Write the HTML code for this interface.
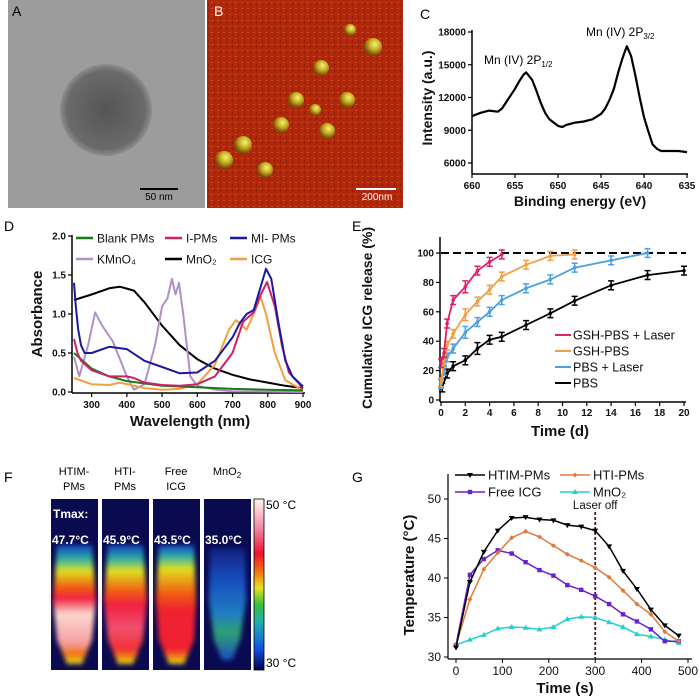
<!DOCTYPE html>
<html><head><meta charset="utf-8"><style>
body{margin:0;background:#fff;}
svg{display:block;font-family:"Liberation Sans",Arial,sans-serif;}
.t{font-weight:bold;fill:#111;}
</style></head><body>
<svg id="fig" width="700" height="700" viewBox="0 0 700 700">
<defs>
<radialGradient id="tem" cx="0.5" cy="0.5" r="0.5">
<stop offset="0" stop-color="#555"/><stop offset="0.85" stop-color="#6a6a6a"/><stop offset="1" stop-color="#8e8e8e"/>
</radialGradient>
<radialGradient id="sph" cx="0.6" cy="0.35" r="0.6">
<stop offset="0" stop-color="#f4f080"/><stop offset="0.5" stop-color="#c8b020"/><stop offset="1" stop-color="#7a4a08"/>
</radialGradient>
<pattern id="noise" width="6" height="6" patternUnits="userSpaceOnUse">
<rect width="6" height="6" fill="#b0270c"/><rect x="1" y="2" width="2" height="1" fill="#d0501a"/><rect x="4" y="4" width="1" height="2" fill="#8a1a08"/>
</pattern>
<linearGradient id="cbar" x1="0" y1="1" x2="0" y2="0">
<stop offset="0" stop-color="#000050"/><stop offset="0.12" stop-color="#1050e0"/><stop offset="0.28" stop-color="#20b0b0"/><stop offset="0.38" stop-color="#30c040"/><stop offset="0.48" stop-color="#e8e020"/><stop offset="0.58" stop-color="#f07010"/><stop offset="0.68" stop-color="#f01030"/><stop offset="0.82" stop-color="#f080a0"/><stop offset="1" stop-color="#fff8f0"/>
</linearGradient>
<linearGradient id="tube1" x1="0" y1="0" x2="0" y2="1">
<stop offset="0" stop-color="#1040c0"/><stop offset="0.12" stop-color="#30b0a0"/><stop offset="0.22" stop-color="#e0e020"/><stop offset="0.35" stop-color="#f06010"/><stop offset="0.45" stop-color="#f02040"/><stop offset="0.58" stop-color="#fcd8d0"/><stop offset="0.82" stop-color="#f4a0a0"/><stop offset="0.92" stop-color="#f07010"/><stop offset="1" stop-color="#e0e020"/>
</linearGradient>
<linearGradient id="tube2" x1="0" y1="0" x2="0" y2="1">
<stop offset="0" stop-color="#1040c0"/><stop offset="0.12" stop-color="#30b0a0"/><stop offset="0.22" stop-color="#e0e020"/><stop offset="0.38" stop-color="#f06010"/><stop offset="0.5" stop-color="#f02040"/><stop offset="0.7" stop-color="#f05070"/><stop offset="0.88" stop-color="#f03030"/><stop offset="0.95" stop-color="#f09010"/><stop offset="1" stop-color="#e0e020"/>
</linearGradient>
<linearGradient id="tube3" x1="0" y1="0" x2="0" y2="1">
<stop offset="0" stop-color="#1040c0"/><stop offset="0.1" stop-color="#30b0a0"/><stop offset="0.2" stop-color="#e0e020"/><stop offset="0.4" stop-color="#f06010"/><stop offset="0.55" stop-color="#f02030"/><stop offset="0.88" stop-color="#f02030"/><stop offset="0.95" stop-color="#f09010"/><stop offset="1" stop-color="#e0e020"/>
</linearGradient>
<linearGradient id="tube4" x1="0" y1="0" x2="0" y2="1">
<stop offset="0" stop-color="#102080"/><stop offset="0.3" stop-color="#1850c0"/><stop offset="0.6" stop-color="#2080c0"/><stop offset="0.75" stop-color="#30a070"/><stop offset="1" stop-color="#1850c0"/>
</linearGradient>
<filter id="blur"><feGaussianBlur stdDeviation="2.5"/></filter>
</defs>

<g>
<rect x="8" y="0" width="197" height="208" fill="#9c9c9c"/>
<circle cx="106" cy="110" r="46" fill="url(#tem)"/>
<rect x="140" y="188" width="38" height="2" fill="#000"/>
<text x="159" y="200" font-size="10" text-anchor="middle" fill="#000">50 nm</text>
<text x="12" y="16" font-size="14" fill="#000">A</text>
</g>
<g>
<rect x="207" y="0" width="196" height="208" fill="url(#noise)"/>
<g>
<circle cx="373" cy="47" r="9" fill="url(#sph)"/><circle cx="350" cy="30" r="6" fill="url(#sph)"/>
<circle cx="321" cy="68" r="8" fill="url(#sph)"/><circle cx="347" cy="100" r="8" fill="url(#sph)"/>
<circle cx="296" cy="100" r="8" fill="url(#sph)"/><circle cx="315" cy="110" r="6" fill="url(#sph)"/>
<circle cx="281" cy="125" r="8" fill="url(#sph)"/><circle cx="327" cy="131" r="8" fill="url(#sph)"/>
<circle cx="243" cy="145" r="9" fill="url(#sph)"/><circle cx="224" cy="160" r="9" fill="url(#sph)"/>
<circle cx="265" cy="170" r="8" fill="url(#sph)"/>
</g>
<rect x="356" y="188" width="40" height="2" fill="#fff"/>
<text x="377" y="200" font-size="10" text-anchor="middle" fill="#fff">200nm</text>
<text x="214" y="16" font-size="14" fill="#fff">B</text>
</g>

<g id="panelC">
<text x="420" y="19" font-size="14" fill="#000">C</text>
</g>
<g id="panelD">
<text x="4" y="231" font-size="14" fill="#000">D</text>
</g>
<g id="panelE">
<text x="352" y="231" font-size="14" fill="#000">E</text>
</g>

<g>
<text x="4" y="482" font-size="14" fill="#000">F</text>
<g font-size="11" fill="#000" text-anchor="middle">
<text x="74" y="475">HTIM-</text><text x="74" y="490">PMs</text>
<text x="125" y="475">HTI-</text><text x="125" y="490">PMs</text>
<text x="176" y="475">Free</text><text x="176" y="490">ICG</text>
<text x="227" y="475">MnO<tspan font-size="8" dy="3">2</tspan></text>
</g>
<g>
<rect x="51" y="499" width="47" height="171" fill="#0a0a50"/>
<path d="M57 545 L92 545 L96 600 L92 640 L82 664 L67 664 L57 640 L53 600 Z" fill="url(#tube1)" filter="url(#blur)"/>
</g>
<g>
<rect x="102" y="499" width="47" height="171" fill="#0a0a50"/>
<path d="M108 545 L143 545 L147 600 L143 640 L133 664 L118 664 L108 640 L104 600 Z" fill="url(#tube2)" filter="url(#blur)"/>
</g>
<g>
<rect x="153" y="499" width="47" height="171" fill="#0a0a50"/>
<path d="M159 545 L194 545 L196 600 L194 640 L184 664 L169 664 L159 640 L156 600 Z" fill="url(#tube3)" filter="url(#blur)"/>
</g>
<g>
<rect x="204" y="499" width="47" height="171" fill="#0a0a50"/>
<path d="M210 548 L245 548 L246 600 L240 640 L232 660 L222 660 L214 640 L209 600 Z" fill="url(#tube4)" filter="url(#blur)"/>
</g>
<g font-size="12" font-weight="bold" fill="#fff">
<text x="53" y="518">Tmax:</text>
<text x="52" y="544">47.7°C</text><text x="103" y="544">45.9°C</text><text x="154" y="544">43.5°C</text><text x="205" y="544">35.0°C</text>
</g>
<rect x="254" y="499" width="10" height="171" fill="url(#cbar)" stroke="#000" stroke-width="0.8"/>
<text x="266" y="509" font-size="12" fill="#000">50 °C</text>
<text x="266" y="667" font-size="12" fill="#000">30 °C</text>
</g>

<g id="panelG">
<text x="352" y="482" font-size="14" fill="#000">G</text>
</g>
</svg>
<script>
const xpsEnergy = [660,659,658,657,656.5,656,655.5,655,654.5,654,653.7,653,652.5,652,651.5,651,650,649.5,649,648,647,646,645,644.5,644,643.5,643,642.5,642,641.5,641,640.5,640,639.5,639,638.5,638,637,636,635];
const xpsIntensity = [10300,10600,10800,10700,11000,11600,12200,12800,13500,14100,14300,13600,12600,11500,10600,10000,9400,9300,9500,9700,9800,10000,10500,11000,11800,12800,14300,15600,16700,15800,14000,12000,10200,8900,7700,7300,7100,7100,7100,7000];
const xpsYTicks = [6000,9000,12000,15000,18000];
const xpsXTicks = [660,655,650,645,640,635];

const dTicksX = [300,400,500,600,700,800,900];
const dTicksY = [0,0.5,1.0,1.5,2.0];
const dTickLabelsY = ["0.0","0.5","1.0","1.5","2.0"];
const blankW = [250,300,350,400,500,600,700,800,900];
const blankA = [0.5,0.3,0.2,0.14,0.08,0.06,0.04,0.03,0.02];
const ipmW = [250,260,270,300,350,400,420,450,500,550,600,650,700,730,760,780,798,820,840,860,900];
const ipmA = [0.68,0.5,0.4,0.28,0.2,0.2,0.18,0.12,0.09,0.08,0.1,0.2,0.5,0.9,1.02,1.25,1.41,1.1,0.6,0.25,0.05];
const mipmW = [250,255,262,270,280,300,350,400,450,500,550,600,650,700,720,740,760,780,795,810,830,850,870,900];
const mipmA = [1.4,1.1,0.8,0.6,0.5,0.5,0.58,0.55,0.4,0.32,0.24,0.25,0.4,0.7,0.88,1.0,1.05,1.35,1.58,1.45,0.9,0.4,0.2,0.07];
const kmnW = [250,265,290,310,330,360,400,420,450,480,500,515,528,538,548,560,580,600,650,700,900];
const kmnA = [0.45,0.2,0.6,1.02,0.85,0.65,0.2,0.03,0.1,0.6,1.1,1.2,1.45,1.25,1.4,1.0,0.2,0.08,0.03,0.01,0.0];
const mno2W = [250,300,350,380,420,450,500,550,600,650,700,750,800,850,900];
const mno2A = [1.18,1.25,1.33,1.35,1.3,1.15,0.85,0.6,0.42,0.3,0.22,0.16,0.12,0.08,0.05];
const icgW = [250,300,350,380,400,450,500,550,600,650,690,710,740,760,780,795,820,850,900];
const icgA = [0.18,0.1,0.09,0.12,0.1,0.05,0.03,0.04,0.1,0.35,0.8,0.92,0.8,1.0,1.22,1.0,0.5,0.15,0.02];

const eTicksX = [0,2,4,6,8,10,12,14,16,18,20];
const eTicksY = [0,20,40,60,80,100];
const gshLaserT = [0,0.25,0.5,1,2,3,4,5];
const gshLaserV = [25,32,52,68,77,88,94,99];
const gshT = [0,0.25,0.5,1,2,3,4,5,7,9,11];
const gshV = [12,25,37,45,58,67,75,84,92,98,99];
const pbsLaserT = [0,0.25,0.5,1,2,3,4,5,7,9,11,14,17];
const pbsLaserV = [11,20,29,35,46,53,60,68,76,82,90,95,100];
const pbsT = [0.1,0.5,1,2,3,4,5,7,9,11,14,17,20];
const pbsV = [8.5,18,23,27,35,41,43,51,59,67.5,78,85,88];
const errSize = [3,3,3,3,4,3,3,3,3,3,3,3,3];

const gTimes = [0,30,60,90,120,150,180,210,240,270,300,330,360,390,420,450,480];
const gTicksX = [0,100,200,300,400,500];
const gTicksY = [30,35,40,45,50];
const htimT = [31.2,39.5,43.3,46,47.6,47.7,47.4,47.3,46.7,46.5,46,44,40.9,38.6,36,34,32.7];
const htiT = [31.5,37.3,41.1,43.2,45.1,45.9,45.2,44.1,43,42.2,41.3,40.1,38.4,36.7,35.4,33.2,32];
const freeT = [31.5,40.4,42.4,43.5,43.1,42,41,40.3,39.1,38.5,37.7,36.7,35.4,34.5,33.5,32,32];
const mnoT = [31.5,32.2,32.8,33.6,33.8,33.7,33.5,33.8,34.8,35.1,35,34.4,33.8,32.9,32.6,32.2,31.8];
const laserOff = 300;

const NS = "http://www.w3.org/2000/svg";
function mk(parent, tag, attrs, text){
  const e = document.createElementNS(NS, tag);
  for (const k in attrs) e.setAttribute(k, attrs[k]);
  if (text !== undefined) e.textContent = text;
  parent.appendChild(e);
  return e;
}
function pts(xs, ys, fx, fy){ return xs.map((x,i)=>fx(x).toFixed(1)+","+fy(ys[i]).toFixed(1)).join(" "); }

(function(){
  const g = document.getElementById("panelC");
  const xC = e => 472 + (660 - e) * 8.6;
  const yC = v => 163 - (v - 6000) * 131 / 12000;
  let a = mk(g,"line",{x1:472,y1:30,x2:472,y2:174,stroke:"#000","stroke-width":1.5});
   
  a = mk(g,"line",{x1:472,y1:174,x2:688,y2:174,stroke:"#000","stroke-width":1.5});
   
  xpsYTicks.forEach(v=>{
    const t = mk(g,"line",{x1:468,y1:yC(v),x2:472,y2:yC(v),stroke:"#000","stroke-width":1.2});
     
    const l = mk(g,"text",{x:466,y:yC(v)+3.5,"font-size":10,"text-anchor":"end",class:"t"},v);
     
  });
  xpsXTicks.forEach(v=>{
    const t = mk(g,"line",{x1:xC(v),y1:174,x2:xC(v),y2:178,stroke:"#000","stroke-width":1.2});
     
    const l = mk(g,"text",{x:xC(v),y:189,"font-size":10,"text-anchor":"middle",class:"t"},v);
     
  });
  const line = mk(g,"polyline",{points:pts(xpsEnergy,xpsIntensity,xC,yC),fill:"none",stroke:"#000","stroke-width":2.2,"stroke-linejoin":"round"});
   
  let t = mk(g,"text",{x:580,y:206,"font-size":14,"text-anchor":"middle",class:"t"},"Binding energy (eV)");
   
  t = mk(g,"text",{x:0,y:0,"font-size":14,"text-anchor":"middle",class:"t",transform:"translate(432,98) rotate(-90)"},"Intensity (a.u.)");
   
  t = mk(g,"text",{x:484,y:64,"font-size":12,fill:"#000"},"Mn (IV) 2P");
   
  mk(t,"tspan",{"font-size":8,dy:3},"1/2");
  t = mk(g,"text",{x:586,y:36,"font-size":12,fill:"#000"},"Mn (IV) 2P");
   
  mk(t,"tspan",{"font-size":8,dy:3},"3/2");
})();

(function(){
  const g = document.getElementById("panelD");
  const xD = w => 74 + (w - 250) * 229 / 650;
  const yD = v => 392 - v * 78;
  let a = mk(g,"line",{x1:72,y1:235,x2:72,y2:393,stroke:"#000","stroke-width":1.5});
   
  a = mk(g,"line",{x1:72,y1:393,x2:305,y2:393,stroke:"#000","stroke-width":1.5});
   
  dTicksY.forEach((v,i)=>{
    const t = mk(g,"line",{x1:68,y1:yD(v),x2:72,y2:yD(v),stroke:"#000","stroke-width":1.2});
     
    const l = mk(g,"text",{x:66,y:yD(v)+3.5,"font-size":10,"text-anchor":"end",class:"t"},dTickLabelsY[i]);
     
  });
  dTicksX.forEach(v=>{
    const t = mk(g,"line",{x1:xD(v),y1:393,x2:xD(v),y2:397,stroke:"#000","stroke-width":1.2});
     
    const l = mk(g,"text",{x:xD(v),y:408,"font-size":10,"text-anchor":"middle",class:"t"},v);
     
  });
  const series = [
    ["series-mno2",mno2W,mno2A,"#000"],
    ["series-kmno4",kmnW,kmnA,"#b090c8"],
    ["series-icg",icgW,icgA,"#f0a040"],
    ["series-blank-pms",blankW,blankA,"#1a7a1a"],
    ["series-i-pms",ipmW,ipmA,"#d0206a"],
    ["series-mi-pms",mipmW,mipmA,"#1a1aa0"]
  ];
  series.forEach(s=>{
    const p = mk(g,"polyline",{points:pts(s[1],s[2],xD,yD),fill:"none",stroke:s[3],"stroke-width":2,"stroke-linejoin":"round"});
     
  });
  const leg = [["Blank PMs","#1a7a1a",76,238],["I-PMs","#d0206a",165,238],["MI- PMs","#1a1aa0",230,238],
               ["KMnO₄","#b090c8",76,259],["MnO₂","#000",165,259],["ICG","#f0a040",230,259]];
  leg.forEach(l=>{
    const ln = mk(g,"line",{x1:l[2],y1:l[3],x2:l[2]+17,y2:l[3],stroke:l[1],"stroke-width":2.5});
     
    const tx = mk(g,"text",{x:l[2]+21,y:l[3]+4.5,"font-size":12,fill:"#111"},l[0]);
     
  });
  let t = mk(g,"text",{x:190,y:426,"font-size":15,"text-anchor":"middle",class:"t"},"Wavelength (nm)");
   
  t = mk(g,"text",{x:0,y:0,"font-size":15,"text-anchor":"middle",class:"t",transform:"translate(42,314) rotate(-90)"},"Absorbance");
   
})();

(function(){
  const g = document.getElementById("panelE");
  const xE = t => 441 + t * 12.15;
  const yE = v => 400 - v * 1.47;
  let a = mk(g,"line",{x1:440,y1:237,x2:440,y2:402,stroke:"#000","stroke-width":1.5});
   
  a = mk(g,"line",{x1:440,y1:402,x2:686,y2:402,stroke:"#000","stroke-width":1.5});
   
  eTicksY.forEach(v=>{
    const t = mk(g,"line",{x1:436,y1:yE(v),x2:440,y2:yE(v),stroke:"#000","stroke-width":1.2});
     
    const l = mk(g,"text",{x:434,y:yE(v)+3.5,"font-size":10,"text-anchor":"end",class:"t"},v);
     
  });
  eTicksX.forEach(v=>{
    const t = mk(g,"line",{x1:xE(v),y1:402,x2:xE(v),y2:406,stroke:"#000","stroke-width":1.2});
     
    const l = mk(g,"text",{x:xE(v),y:416,"font-size":10,"text-anchor":"middle",class:"t"},v);
     
  });
  const ref = mk(g,"line",{x1:441,y1:yE(100),x2:686,y2:yE(100),stroke:"#000","stroke-width":2,"stroke-dasharray":"8,4"});
   
  const series = [
    ["series-pbs",pbsT,pbsV,"#000"],
    ["series-pbs-laser",pbsLaserT,pbsLaserV,"#4aa0e0"],
    ["series-gsh-pbs",gshT,gshV,"#f0a040"],
    ["series-gsh-pbs-laser",gshLaserT,gshLaserV,"#e0206a"]
  ];
  series.forEach(s=>{
    const grp = mk(g,"g",{});
     
    mk(grp,"polyline",{points:pts(s[1],s[2],xE,yE),fill:"none",stroke:s[3],"stroke-width":1.8});
    s[1].forEach((t,i)=>{
      const x = xE(t), e = errSize[i]*1.47, y = yE(s[2][i]);
      const eb = mk(grp,"path",{d:`M${x},${y-e}V${y+e}M${x-3},${y-e}H${x+3}M${x-3},${y+e}H${x+3}`,stroke:s[3],"stroke-width":1.5,fill:"none"});
       
      const pt = mk(grp,"circle",{cx:x,cy:y,r:1.8,fill:s[3]});
       
    });
  });
  const leg = [["GSH-PBS + Laser","#e0206a",335],["GSH-PBS","#f0a040",351],["PBS + Laser","#4aa0e0",367],["PBS","#000",383]];
  leg.forEach(l=>{
    const ln = mk(g,"line",{x1:555,y1:l[2],x2:571,y2:l[2],stroke:l[1],"stroke-width":2});
     
    const tx = mk(g,"text",{x:573,y:l[2]+4.5,"font-size":12.5,fill:"#111"},l[0]);
     
  });
  let t = mk(g,"text",{x:560,y:436,"font-size":15,"text-anchor":"middle",class:"t"},"Time (d)");
   
  t = mk(g,"text",{x:0,y:0,"font-size":14,"text-anchor":"middle",class:"t",transform:"translate(372,318) rotate(-90)"},"Cumulative ICG release (%)");
   
})();

(function(){
  const g = document.getElementById("panelG");
  const xG = t => 456 + t * 0.464;
  const yG = v => 657 - (v - 30) * 7.9;
  let a = mk(g,"line",{x1:448,y1:474,x2:448,y2:659,stroke:"#000","stroke-width":1.2});
   
  a = mk(g,"line",{x1:448,y1:659,x2:692,y2:659,stroke:"#000","stroke-width":1.2});
   
  gTicksY.forEach(v=>{
    const t = mk(g,"line",{x1:444,y1:yG(v),x2:448,y2:yG(v),stroke:"#000","stroke-width":1});
     
    const l = mk(g,"text",{x:441,y:yG(v)+4,"font-size":12,"text-anchor":"end",fill:"#111"},v);
     
  });
  gTicksX.forEach(v=>{
    const t = mk(g,"line",{x1:xG(v),y1:659,x2:xG(v),y2:663,stroke:"#000","stroke-width":1});
     
    const l = mk(g,"text",{x:xG(v),y:675,"font-size":12,"text-anchor":"middle",fill:"#111"},v);
     
  });
  const lo = mk(g,"line",{x1:xG(laserOff),y1:512,x2:xG(laserOff),y2:659,stroke:"#5a1818","stroke-width":1.8,"stroke-dasharray":"3,2"});
   
  let t = mk(g,"text",{x:xG(laserOff),y:509,"font-size":11.5,"text-anchor":"middle",fill:"#111"},"Laser off");
   
  const series = [
    ["series-mno2",mnoT,"#22d0d0","tri"],
    ["series-free-icg",freeT,"#6a1fd0","sq"],
    ["series-hti-pms",htiT,"#e07a3a","dia"],
    ["series-htim-pms",htimT,"#000","inv"]
  ];
  function marker(parent, x, y, type, c){
    let m;
    if (type==="sq") m = mk(parent,"rect",{x:x-2.2,y:y-2.2,width:4.4,height:4.4,fill:c});
    else if (type==="tri") m = mk(parent,"path",{d:`M${x},${y-3}L${x+3},${y+2}L${x-3},${y+2}Z`,fill:c});
    else if (type==="inv") m = mk(parent,"path",{d:`M${x-3},${y-2}L${x+3},${y-2}L${x},${y+3}Z`,fill:c});
    else m = mk(parent,"path",{d:`M${x},${y-2.5}L${x+2.5},${y}L${x},${y+2.5}L${x-2.5},${y}Z`,fill:c});
    return m;
  }
  series.forEach(s=>{
    const grp = mk(g,"g",{});
     
    mk(grp,"polyline",{points:pts(gTimes,s[1],xG,yG),fill:"none",stroke:s[2],"stroke-width":1.5});
    gTimes.forEach((tt,i)=>{
      const m = marker(grp, xG(tt), yG(s[1][i]), s[3], s[2]);
       
    });
  });
  const leg = [["HTIM-PMs","#000",455,475,"inv"],["HTI-PMs","#e07a3a",560,475,"dia"],["Free ICG","#6a1fd0",455,492,"sq"],["MnO₂","#22d0d0",560,492,"tri"]];
  leg.forEach(l=>{
    const ln = mk(g,"line",{x1:l[2],y1:l[3],x2:l[2]+30,y2:l[3],stroke:l[1],"stroke-width":1.5});
     
    const mm = marker(g, l[2]+15, l[3], l[4], l[1]);
     
    const tx = mk(g,"text",{x:l[2]+33,y:l[3]+4.5,"font-size":13,fill:"#111"},l[0]);
     
  });
  t = mk(g,"text",{x:565,y:693,"font-size":15,"text-anchor":"middle",class:"t"},"Time (s)");
   
  t = mk(g,"text",{x:0,y:0,"font-size":15,"text-anchor":"middle",class:"t",transform:"translate(414,575) rotate(-90)"},"Temperature (°C)");
   
})();
</script>
</body></html>
